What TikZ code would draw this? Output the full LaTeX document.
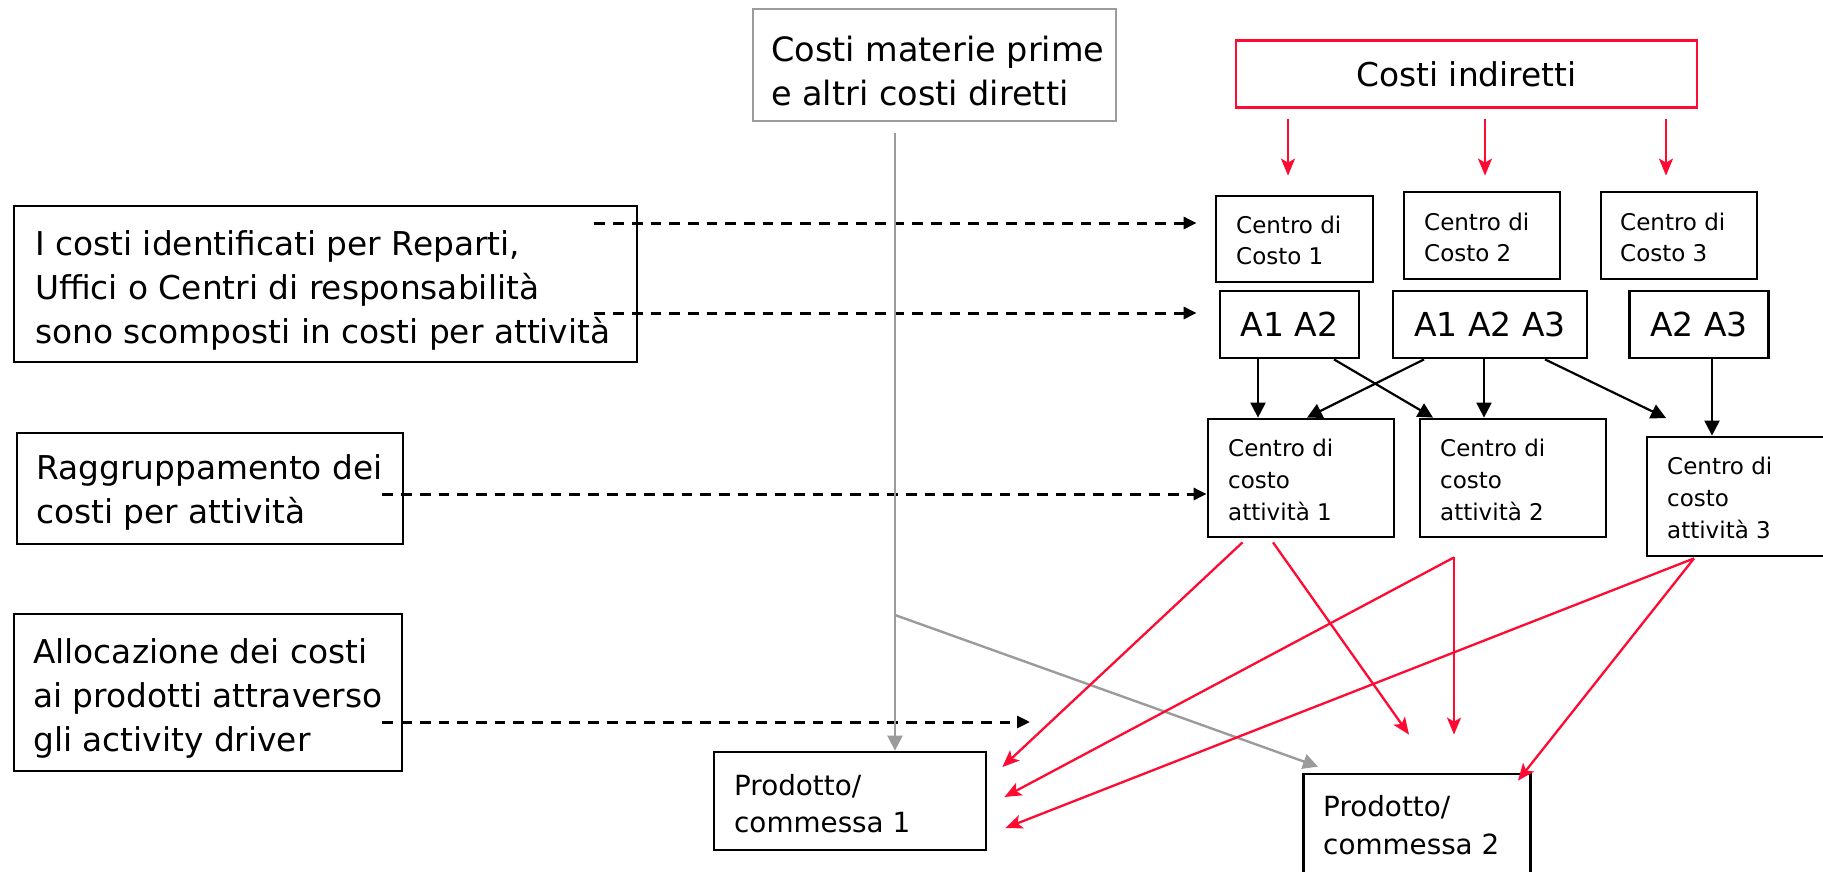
\documentclass[tikz,border=0pt]{standalone}
\usepackage{fontspec}
\setmainfont{DejaVu Sans}
\usetikzlibrary{arrows.meta}
\definecolor{costred}{RGB}{255,10,50}
\definecolor{costgray}{RGB}{155,155,155}
\newcommand{\fntbig}{\fontsize{32.8}{44}\selectfont}
\newcommand{\fntmat}{\fontsize{33.5}{44}\selectfont}
\newcommand{\fntsmall}{\fontsize{23}{31.7}\selectfont}
\newcommand{\fntprod}{\fontsize{27.8}{37.5}\selectfont}
\newcommand{\fntact}{\fontsize{33}{40}\selectfont}
\begin{document}
\begin{tikzpicture}[x=1pt,y=-1pt,
  box/.style={draw=black, line width=2.8pt, inner sep=0pt},
  graybox/.style={draw=costgray, line width=2.6pt, inner sep=0pt},
  redbox/.style={draw=costred, line width=2.8pt, inner sep=0pt},
  lbl/.style={inner sep=0pt, align=left, anchor=west},
  blk/.style={line width=2.2pt, -{Triangle[length=15pt,width=15pt]}},
  dsh/.style={line width=3pt, dash pattern=on 10.7pt off 8pt, -{Triangle[length=13pt,width=12pt]}},
  redarr/.style={costred, line width=2.3pt, -{Stealth[length=17pt,width=14pt,inset=4pt]}},
  grayarr/.style={costgray, line width=2.4pt, -{Triangle[length=15pt,width=15pt]}}
]
\useasboundingbox (0,0) rectangle (1823,871);

% --- boxes of the left column ---
\node[box, minimum width=623, minimum height=156] (A) at (325.5,284) {};
\node[lbl, font=\fntbig] (Atxt) at (35,290) {I costi identificati per Reparti,\\Uffici o Centri di responsabilità\\sono scomposti in costi per attività};
\node[box, minimum width=386, minimum height=111] (B) at (210,488.5) {};
\node[lbl, font=\fntbig] (Btxt) at (36,492) {Raggruppamento dei\\costi per attività};
\node[box, minimum width=388, minimum height=157] (C) at (208,692.5) {};
\node[lbl, font=\fntbig] (Ctxt) at (33,698) {Allocazione dei costi\\ai prodotti attraverso\\gli activity driver};

% --- direct and indirect costs ---
\node[graybox, minimum width=363, minimum height=112] (mat) at (934.5,65) {};
\node[lbl, font=\fntmat] (mattxt) at (771,71) {Costi materie prime\\e altri costi diretti};
\node[redbox, minimum width=461, minimum height=66.5, font=\fntbig] (ind) at (1466.5,74) {Costi indiretti};

% --- cost centres ---
\node[box, minimum width=157, minimum height=86] (cc1) at (1294.5,239) {};
\node[lbl, font=\fntsmall] (cc1txt) at (1236,240.5) {Centro di\\Costo 1};
\node[box, minimum width=156, minimum height=87] (cc2) at (1482,235.5) {};
\node[lbl, font=\fntsmall] (cc2txt) at (1424,237.5) {Centro di\\Costo 2};
\node[box, minimum width=156, minimum height=87] (cc3) at (1679,235.5) {};
\node[lbl, font=\fntsmall] (cc3txt) at (1620,237.5) {Centro di\\Costo 3};

% --- activities per centre ---
\node[box, minimum width=139, minimum height=67, font=\fntact] (aa12) at (1289.5,324.5) {A1 A2};
\node[box, minimum width=194, minimum height=67, font=\fntact] (aa123) at (1490,324.5) {A1 A2 A3};
\node[box, minimum width=138.5, minimum height=67, font=\fntact] (aa23) at (1699,324.5) {A2 A3};

% --- activity cost centres ---
\node[box, minimum width=186, minimum height=118] (att1) at (1301,478) {};
\node[lbl, font=\fntsmall] (att1txt) at (1228,480) {Centro di\\costo\\attività 1};
\node[box, minimum width=186, minimum height=118] (att2) at (1513,478) {};
\node[lbl, font=\fntsmall] (att2txt) at (1440,480) {Centro di\\costo\\attività 2};
\node[box, minimum width=183, minimum height=119] (att3) at (1738.5,496.5) {};
\node[lbl, font=\fntsmall] (att3txt) at (1667,498) {Centro di\\costo\\attività 3};

% --- products ---
\node[box, minimum width=272, minimum height=98] (p1) at (850,801) {};
\node[lbl, font=\fntprod] (p1txt) at (734,803.5) {Prodotto/\\commessa 1};
\node[box, minimum width=227, minimum height=102] (p2) at (1417,825) {};
\node[lbl, font=\fntprod] (p2txt) at (1323,825) {Prodotto/\\commessa 2};

% --- free ends ---
\coordinate (split) at (895,615);
\coordinate (a5end) at (1666,418);
\coordinate (d4end) at (1030,722);

% --- indirect costs to cost centres ---
\draw[redarr] ([xshift=-178.5,yshift=-10]ind.south) -- ([xshift=-6.5,yshift=19]cc1.north);
\draw[redarr] ([xshift=18.5,yshift=-10]ind.south) -- ([xshift=3,yshift=15]cc2.north);
\draw[redarr] ([xshift=199.5,yshift=-10]ind.south) -- ([xshift=-13,yshift=15]cc3.north);

% --- activities to activity cost centres ---
\draw[blk] ([xshift=-31.5]aa12.south) -- ([xshift=-43]att1.north);
\draw[blk] ([xshift=44.5]aa12.south) -- ([xshift=-80]att2.north);
\draw[blk] ([xshift=-66]aa123.south) -- ([xshift=6]att1.north);
\draw[blk] ([xshift=-6]aa123.south) -- ([xshift=-29]att2.north);
\draw[blk] ([xshift=55]aa123.south) -- (a5end);
\draw[blk] ([xshift=13]aa23.south) -- ([xshift=-26.5]att3.north);

% --- dashed explanation arrows ---
\draw[dsh] ([xshift=-44,yshift=61]A.east) -- ([xshift=-18,yshift=16]cc1.west);
\draw[dsh] ([xshift=-44,yshift=-29]A.east) -- ([xshift=-22,yshift=11.5]aa12.west);
\draw[dsh] ([xshift=-22,yshift=-5.5]B.east) -- ([yshift=-16]att1.west);
\draw[dsh] ([xshift=-21,yshift=-29.5]C.east) -- (d4end);

% --- direct costs ---
\draw[grayarr] ([xshift=-39.5,yshift=-11]mat.south) -- ([xshift=45]p1.north);
\draw[grayarr] (split) -- ([xshift=-99,yshift=6]p2.north);

% --- activity costs to products ---
\draw[redarr] ([xshift=-58.5,yshift=-4]att1.south) -- ([xshift=15,yshift=34]p1.east);
\draw[redarr] ([xshift=-28,yshift=-4]att1.south) -- ([xshift=-8,yshift=38]p2.north);
\draw[redarr] ([xshift=-59,yshift=-19]att2.south) -- ([xshift=17,yshift=4]p1.east);
\draw[redarr] ([xshift=-59,yshift=-19]att2.south) -- ([xshift=37,yshift=38]p2.north);
\draw[redarr] ([xshift=-44.5,yshift=-1]att3.south) -- ([xshift=18,yshift=-27]p1.east);
\draw[redarr] ([xshift=-44.5,yshift=-1]att3.south) -- ([xshift=101,yshift=-8]p2.north);
\end{tikzpicture}
\end{document}
